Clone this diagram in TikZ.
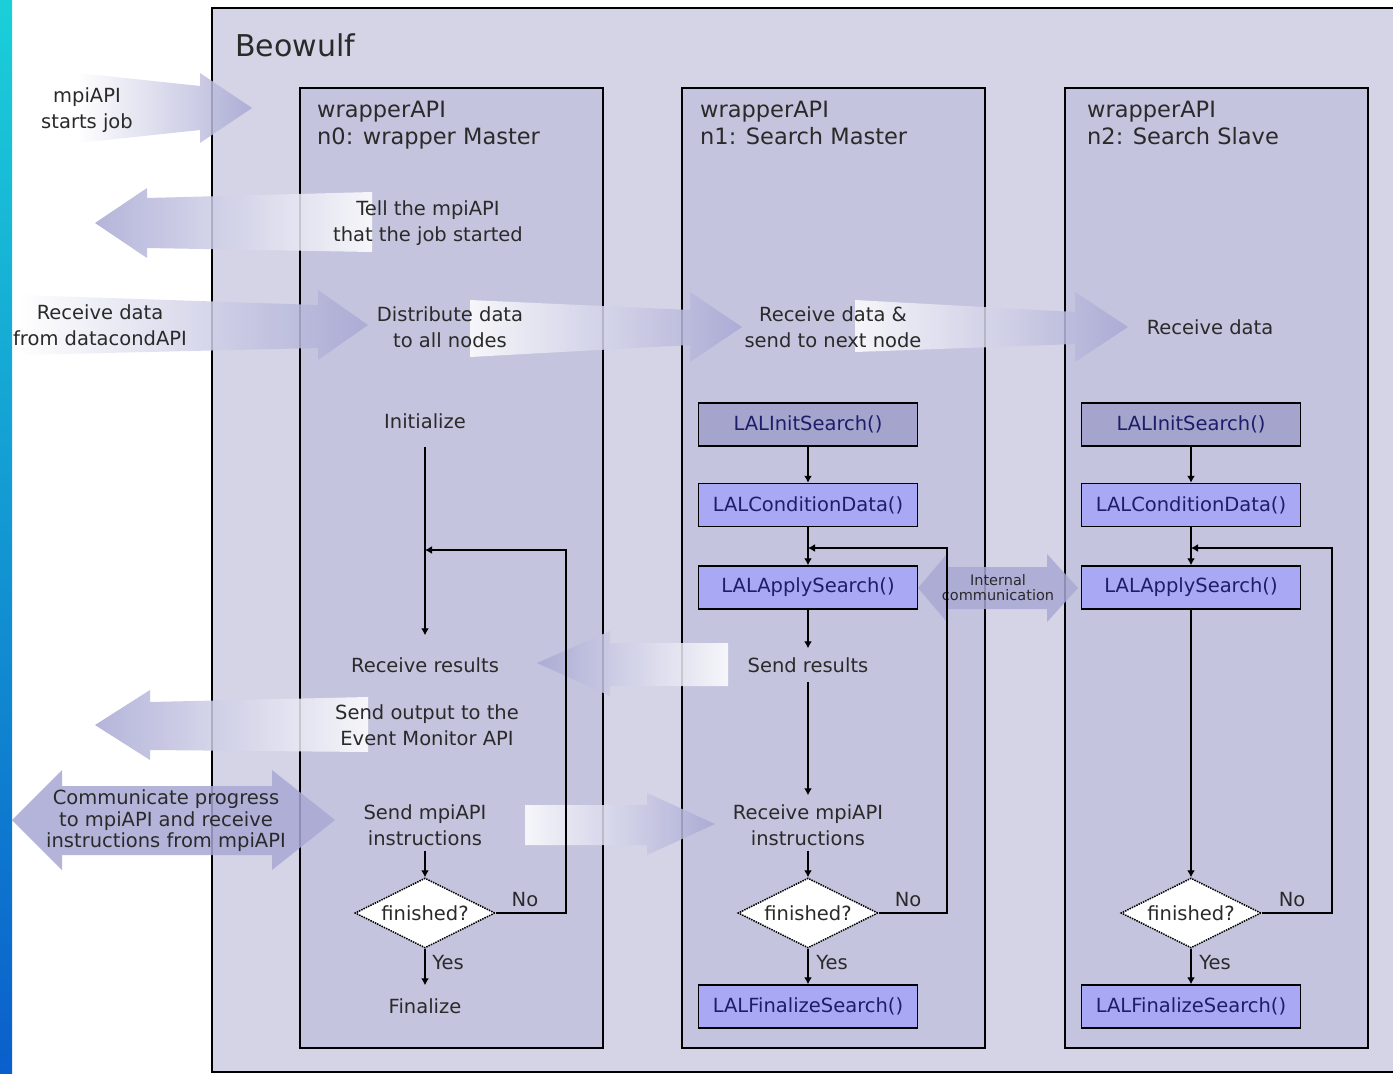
\documentclass[tikz,border=0pt]{standalone}
\usepackage{fontspec}
\setmainfont{DejaVu Sans}
\usetikzlibrary{shapes.geometric,arrows.meta,calc}
\definecolor{beo}{HTML}{D4D4E6}
\definecolor{lane}{HTML}{C4C4DE}
\definecolor{lav}{HTML}{A8A8D4}
\definecolor{initc}{HTML}{A4A4CC}
\definecolor{lalc}{HTML}{A8A8F4}
\definecolor{txt}{HTML}{2A2A2A}
\definecolor{stripTop}{HTML}{1BCFD9}
\definecolor{stripBot}{HTML}{0A5FCC}
\begin{document}
\begin{tikzpicture}[x=1pt,y=-1pt,
  lbl/.style={text=txt,font=\fontsize{19.5}{26}\selectfont,align=center,inner sep=0pt},
  ttl/.style={text=txt,font=\fontsize{22.5}{27}\selectfont,align=left,anchor=north west,inner sep=0pt},
  func/.style={draw,line width=1.5pt,fill=lalc,minimum width=219pt,minimum height=43pt,inner sep=0pt,
    text=txt!70!blue,font=\fontsize{19.5}{22}\selectfont},
  dec/.style={diamond,aspect=2,draw,densely dotted,line width=1.5pt,fill=white,minimum width=140pt,minimum height=70pt,
    inner sep=0pt,text=txt,font=\fontsize{19.5}{22}\selectfont},
  flow/.style={line width=1.7pt,-{Latex[length=7pt,width=8pt]}},
  lanebox/.style={draw,line width=1.6pt,fill=lane},
  fat/.style={fill opacity=0.85}
]
\useasboundingbox (0,0) rectangle (1393,1074);
\fill[white] (0,0) rectangle (1393,1074);
% Beowulf frame
\fill[beo] (212,8) rectangle (1396,1072);
\draw[line width=1.6pt] (1396,8) -| (212,1072) -- (1396,1072);
\node[text=txt,font=\fontsize{30}{32}\selectfont,anchor=west,inner sep=0pt] (beowulf) at (235,45) {Beowulf};
% lanes
\draw[lanebox] (300,88) rectangle (603,1048);
\draw[lanebox] (682,88) rectangle (985,1048);
\draw[lanebox] (1065,88) rectangle (1368,1048);
\node[ttl] (t0) at (317,101) {wrapperAPI\\n0: wrapper Master};
\node[ttl] (t1) at (700,101) {wrapperAPI\\n1: Search Master};
\node[ttl] (t2) at (1087,101) {wrapperAPI\\n2: Search Slave};

% fat arrows
\shade[fat,left color=white,right color=lav] (78,73) -- (200,86) -- (200,73) -- (252,108) -- (200,143) -- (200,130) -- (78,143) -- cycle;
\shade[fat,left color=lav,right color=white] (95,223) -- (147,188) -- (147,198) -- (372,192) -- (372,252) -- (147,248) -- (147,258) -- cycle;
\shade[fat,left color=white,right color=lav] (20,295) -- (318,305) -- (318,290) -- (368,325) -- (318,360) -- (318,348) -- (20,355) -- cycle;
\shade[fat,left color=white,right color=lav] (470,300) -- (690,310) -- (690,292) -- (742,327) -- (690,362) -- (690,345) -- (470,357) -- cycle;
\shade[fat,left color=white,right color=lav] (855,300) -- (1075,312) -- (1075,292) -- (1128,327) -- (1075,362) -- (1075,344) -- (855,352) -- cycle;
\shade[fat,left color=lav,right color=white] (537,663) -- (610,631) -- (610,643) -- (728,643) -- (728,686) -- (610,686) -- (610,696) -- cycle;
\shade[fat,left color=lav,right color=white] (95,725) -- (150,690) -- (150,702) -- (368,697) -- (368,752) -- (150,750) -- (150,760) -- cycle;
\shade[fat,left color=lav,middle color=white!40!lav,right color=lav] (12,820) -- (62,770) -- (62,786) -- (272,786) -- (272,770) -- (335,820) -- (272,870) -- (272,855) -- (62,855) -- (62,870) -- cycle;
\shade[fat,left color=white,right color=lav] (525,805) -- (647,805) -- (647,793) -- (715,824) -- (647,855) -- (647,845) -- (525,845) -- cycle;
\shade[fat,left color=lav,middle color=white!60!lav,right color=lav] (918,588) -- (947,554) -- (947,567) -- (1047,567) -- (1047,554) -- (1078,588) -- (1047,622) -- (1047,609) -- (947,609) -- (947,622) -- cycle;

% outside labels
\node[lbl] (mpistart) at (87,110) {mpiAPI\\starts job};
\node[lbl] (rdc) at (100,325) {Receive data\\from datacondAPI};
\node[lbl,font=\fontsize{19.5}{21.5}\selectfont] (comm) at (166,821) {Communicate progress\\to mpiAPI and receive\\instructions from mpiAPI};
\node[text=txt,align=center,inner sep=0pt,font=\fontsize{14.5}{15}\selectfont] (ic) at (998,588) {Internal\\communication};

% lane 0
\node[lbl] (tell) at (428,223) {Tell the mpiAPI\\that the job started};
\node[lbl] (dist) at (450,327) {Distribute data\\to all nodes};
\node[lbl] (init0) at (425,421) {Initialize};
\node[lbl] (rr) at (425,665) {Receive results};
\node[lbl] (sout) at (427,725) {Send output to the\\Event Monitor API};
\node[lbl] (smpi) at (425,825) {Send mpiAPI\\instructions};
\node[dec] (d0) at (425,913) {finished?};
\node[lbl] (fin0) at (425,1006) {Finalize};
\node[lbl] (no0) at (525,900) {No};
\node[lbl] (yes0) at (448,963) {Yes};
\coordinate (j0) at (425,550);
\draw[flow,shorten <=18pt,shorten >=22pt] (init0) -- (rr);
\draw[flow,shorten <=5pt] (smpi) -- (d0.north);
\draw[flow,shorten >=13pt] (d0.south) -- (fin0);
\draw[flow] (d0.east) -- ++(70,0) |- (j0);

% lane 1
\node[lbl] (rds) at (833,327) {Receive data \&\\send to next node};
\node[func,fill=initc] (init1) at (808,424.5) {LALInitSearch()};
\node[func] (cond1) at (808,505) {LALConditionData()};
\node[func] (apply1) at (808,587.5) {LALApplySearch()};
\node[lbl] (sres) at (808,665) {Send results};
\node[lbl] (rmpi) at (808,825) {Receive mpiAPI\\instructions};
\node[dec] (d1) at (808,913) {finished?};
\node[func] (fin1) at (808,1006.5) {LALFinalizeSearch()};
\node[lbl] (no1) at (908,900) {No};
\node[lbl] (yes1) at (832,963) {Yes};
\coordinate (j1) at (808,548);
\draw[flow] (init1) -- (cond1);
\draw[flow] (cond1) -- (apply1);
\draw[flow,shorten >=9pt] (apply1) -- (sres);
\draw[flow,shorten <=9pt,shorten >=9pt] (sres) -- (rmpi);
\draw[flow,shorten <=5pt] (rmpi) -- (d1.north);
\draw[flow] (d1.south) -- (fin1);
\draw[flow] (d1.east) -- ++(68,0) |- (j1);

% lane 2
\node[lbl] (rd2) at (1210,327) {Receive data};
\node[func,fill=initc] (init2) at (1191,424.5) {LALInitSearch()};
\node[func] (cond2) at (1191,505) {LALConditionData()};
\node[func] (apply2) at (1191,587.5) {LALApplySearch()};
\node[dec] (d2) at (1191,913) {finished?};
\node[func] (fin2) at (1191,1006.5) {LALFinalizeSearch()};
\node[lbl] (no2) at (1292,900) {No};
\node[lbl] (yes2) at (1215,963) {Yes};
\coordinate (j2) at (1191,548);
\draw[flow] (init2) -- (cond2);
\draw[flow] (cond2) -- (apply2);
\draw[flow] (apply2) -- (d2.north);
\draw[flow] (d2.south) -- (fin2);
\draw[flow] (d2.east) -- ++(70,0) |- (j2);

% left strip
\shade[top color=stripTop,bottom color=stripBot] (0,0) rectangle (12,1074);
\end{tikzpicture}
\end{document}
